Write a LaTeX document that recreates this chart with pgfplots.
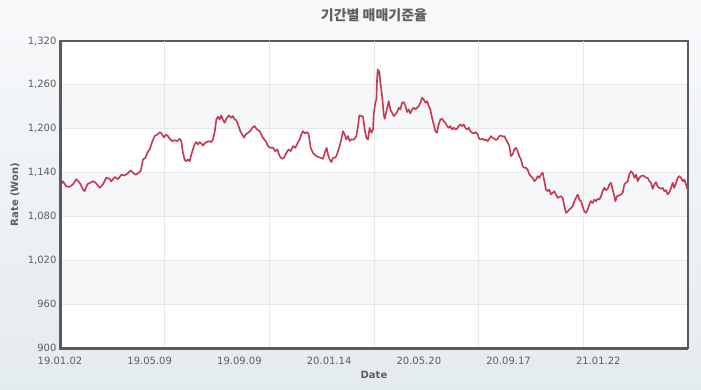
\documentclass[border=0pt]{standalone}
\usepackage{fontspec}
\setmainfont{DejaVu Sans}
\newfontfamily\krfont{Noto Sans CJK KR}
\usepackage{pgfplots}
\pgfplotsset{compat=1.18}
\definecolor{bgtop}{HTML}{F8F9FB}
\definecolor{bgbot}{HTML}{E4EBEF}
\definecolor{band}{HTML}{F6F7F9}
\definecolor{gridc}{HTML}{E6E8EB}
\definecolor{framec}{HTML}{5A5A5A}
\definecolor{linec}{HTML}{C8374F}
\definecolor{txt}{HTML}{5E5E5E}
\begin{document}
\begin{tikzpicture}[x=1pt,y=1pt]
\shade[top color=bgtop, bottom color=bgbot] (0,0) rectangle (701,389);
\begin{axis}[
  at={(60pt,41pt)}, anchor=south west,
  width=628pt, height=307pt, scale only axis,
  clip=false,
  xmin=0, xmax=574, ymin=900, ymax=1320,
  axis background/.style={fill=white, path picture={
    \fill[band] ([yshift=43.857pt]path picture bounding box.south west) rectangle ([yshift=87.714pt]path picture bounding box.south east);
    \fill[band] ([yshift=131.571pt]path picture bounding box.south west) rectangle ([yshift=175.429pt]path picture bounding box.south east);
    \fill[band] ([yshift=219.286pt]path picture bounding box.south west) rectangle ([yshift=263.143pt]path picture bounding box.south east);
  }},
  axis line style={framec, line width=2pt},
  major tick length=0pt,
  xtick={0,82,164,246,328,410,492},
  xticklabels={19.01.02,19.05.09,19.09.09,20.01.14,20.05.20,20.09.17,21.01.22},
  xmajorgrids=false,
  extra x ticks={95.667,191.333,287,382.667,478.333},
  extra x tick labels={},
  extra x tick style={grid=major},
  ytick={900,960,...,1320},
  ymajorgrids=true,
  major grid style={gridc, line width=0.8pt},
  /pgf/number format/assume math mode=true,
  yticklabel style={/pgf/number format/1000 sep={,}},
  xticklabel style={yshift=-6pt},
  ticklabel style={font=\fontsize{10}{12}\selectfont, text=txt},
  title={\krfont\bfseries 기간별 매매기준율},
  title style={font=\fontsize{14}{16}\selectfont, text=txt, at={(axis description cs:0.5,1)}, anchor=center, yshift=20pt},
  xlabel={Date},
  ylabel={Rate (Won)},
  xlabel style={font=\bfseries\fontsize{10}{12}\selectfont, text=txt, at={(axis description cs:0.5,-0.088)}, anchor=center},
  ylabel style={font=\bfseries\fontsize{10}{12}\selectfont, text=txt, at={(axis description cs:-0.0717,0.5)}, anchor=center},
]
\addplot[linec, line width=1.6pt, line join=round, no marks] table {
x y
0 1122
2.7 1128
5.8 1121
8.8 1120.5
11.9 1124
14.9 1131
18 1126
21 1117
22.5 1114.6
25 1124
28.6 1127
31 1128
33.2 1125
36.3 1119
39.3 1124
42.3 1133
45.4 1131.5
46.9 1128
50 1134
53 1131
56 1137
59 1136
62 1139
64.3 1143
66.7 1140
68.8 1137
71.3 1139
73.7 1142
75.9 1158
78 1160
79.8 1167
82 1172
84 1181
86.5 1190
89 1192
91 1195
92.6 1194
95 1188
97 1192
98.7 1189.9
100.2 1186.2
102.6 1183.0
104.8 1184.4
106.9 1183
109.3 1186.2
110.9 1183
112.4 1167
113.9 1157.9
115.4 1155.6
116.9 1157.9
118.5 1155.6
120 1164.8
121.5 1171.6
123 1178.5
124.6 1181.7
126.1 1178.5
127.6 1181.7
129.1 1179.8
130.7 1177.1
132.2 1179.8
133.7 1181.7
136.2 1183
138.3 1181.7
139.8 1185.3
141.3 1194.5
142.9 1212.7
144.4 1216.4
145.9 1212.7
147.4 1218.2
149 1211.8
150.5 1208.1
152 1213.6
154.4 1218.2
156.6 1215
158.1 1217.3
159.6 1212.7
161.1 1211.8
162.7 1205.9
164.8 1196.7
166.6 1192.2
168.1 1187.6
169.7 1192.2
171.8 1194.5
173.9 1196.7
175.8 1201.3
177.9 1203.6
180 1199
182.5 1196.7
184 1192.2
185.5 1187.6
188 1183
190.1 1176.2
192.2 1173.9
194.7 1173.9
196.8 1169.3
198.6 1171.6
200.8 1162.5
202.9 1158.8
204.7 1160.2
206.9 1167.1
209 1171.6
210.8 1169.3
213 1176.2
215.1 1173.9
216.9 1179.8
219 1185.3
220.6 1192.2
222.1 1196.7
223.6 1193.5
226.1 1195.4
227.3 1192.2
229.1 1173.9
231.2 1167.1
233.4 1163.4
235.8 1161.6
238.2 1160.2
240.4 1158.8
242.5 1169.3
243.7 1173.9
244.9 1164.8
246.5 1157.9
248 1154.3
249.5 1160.2
251 1160.2
252.6 1162.5
254.1 1169.3
255.6 1176.2
257.1 1185.3
258.7 1196.7
260.2 1192.2
261.7 1185.3
263.2 1189.9
264.8 1183
266.3 1185.3
268.7 1185.3
270.8 1189.9
272.4 1203.6
273.6 1218.2
275.4 1217.3
276.9 1216.4
278.5 1199
280 1187.6
281.5 1185.3
283 1201.3
284.6 1194.5
286.1 1199
286.7 1219.6
288.2 1235.5
289.2 1240.1
289.8 1267.5
290.4 1281.2
291.3 1274.4
291.9 1278.9
292.8 1262.9
293.7 1253.8
295 1235.5
295.9 1219.6
296.8 1213.6
298 1221.8
299.5 1231
300.4 1237.8
302 1226.4
303.5 1221.8
305 1217.3
306.5 1219.6
308.1 1222.8
309.6 1228.7
311.1 1226.4
312.6 1235.5
314.1 1236.5
315.7 1231
317.2 1222.8
318.7 1226.4
320.2 1220.9
321.8 1226.4
323.3 1228.7
324.8 1226.4
326.3 1228.7
327.9 1231
329.4 1235.5
330.9 1242.4
332.4 1240.1
334 1235.5
335.5 1237.8
337 1231
338.5 1226.4
340 1215
341.6 1205.9
343.1 1196.7
344.6 1194.4
346.1 1205.9
347.7 1212.7
349.2 1213.6
350.7 1210.4
352.2 1208.2
353.8 1203.6
355.3 1201.3
356.8 1203.6
358.3 1199
359.9 1201.3
361.4 1199
362.9 1199.9
364.4 1203.6
366 1205.9
367.5 1203.6
369 1205.9
370.5 1201.3
372 1199
373.6 1201.3
375.1 1196.7
376.6 1194.4
378.1 1193.5
380.2 1195.4
381.7 1192.2
383.2 1186.2
384.8 1185.3
386.3 1186.2
387.8 1184.4
389.3 1185.3
390.9 1183
392.4 1186.2
393.9 1189.9
395.4 1187.6
397 1186.2
398.5 1184.4
400 1186.2
401.5 1189.9
403.1 1190.8
404.6 1189
406.1 1189.9
407.6 1185.3
409.2 1180.7
410.7 1176.2
412.2 1162.5
413.7 1164.8
415.2 1171.6
416.8 1173.9
418.3 1169.3
419.8 1162.5
421.3 1157.9
422.9 1148.8
424.4 1146.5
425.9 1146.5
427.4 1144.2
429 1137.4
430.5 1135.1
432 1132.8
433.5 1128.2
435.1 1130.5
436.6 1135.1
438.1 1132.8
439.6 1137.4
441.2 1139.6
442.7 1128.2
444.2 1116.8
445.7 1114.5
447.2 1116.8
448.8 1110
450.3 1112.3
451.8 1114.5
453.3 1110
454.9 1105.4
456.4 1106.8
457.9 1107.7
459.4 1105.4
461 1094
462.5 1084.9
464 1087.1
465.5 1089.4
467.1 1091.7
468.6 1094
470.1 1100.8
471.6 1105.4
473.2 1110
474.7 1103.1
476.2 1100.8
477.7 1094
479.2 1087.1
480.8 1084.9
482.3 1089.4
483.8 1096.3
485.3 1100.8
486.9 1098.5
488.4 1103.1
489.9 1100.8
491.4 1104
493 1103.1
494.5 1107.7
496 1114.5
497.5 1119.1
499.1 1115.9
500.6 1117.7
502.1 1123.7
503.6 1125.9
505.1 1116.8
506.7 1107.7
507.6 1100.8
509.1 1107.7
511.2 1108.6
512.8 1110
514.3 1112.3
515.8 1123.7
517.3 1125.9
518.9 1128.2
520.4 1137.4
521.9 1141.9
523.4 1139.6
525 1132.8
526.5 1137.4
528 1128.2
529.5 1132.8
531.1 1135.1
532.6 1136
534.1 1135.1
535.6 1132.8
537.2 1132.8
538.7 1128.2
540.2 1125.9
541.7 1117.7
543.2 1123.7
544.8 1126.9
546.3 1120.5
547.8 1119.1
549.3 1117.7
550.9 1119.1
552.4 1114.5
553.9 1115.9
555.4 1110
557 1113.2
558.5 1119.1
560 1125.9
561.5 1119.1
563.1 1125.9
564.6 1132.8
566.1 1135.1
567.6 1132.8
569.2 1128.2
570.7 1130.5
572.2 1123.7
573.1 1119.1
574 1117
};
\draw[framec, line width=3pt] (rel axis cs:0,1) -- (rel axis cs:0,0) -- (rel axis cs:1,0);
\end{axis}
\end{tikzpicture}
\end{document}
